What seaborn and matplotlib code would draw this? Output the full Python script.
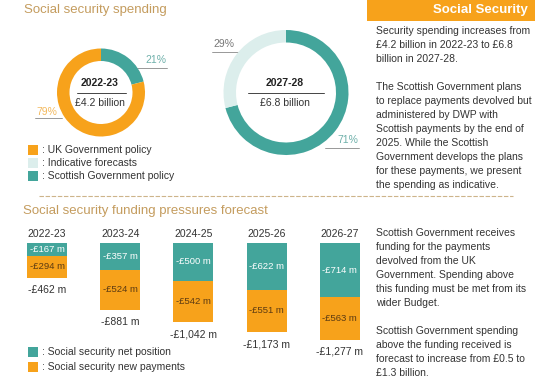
import matplotlib
matplotlib.use('Agg')
import matplotlib.pyplot as plt
import pandas as pd
import seaborn as sns
from matplotlib.patches import Rectangle

# Social security spending (donuts)
spend_years = ['2022-23', '2027-28']
spend_totals = [4.2, 6.8]  # £ billion
scottish_pct = [21, 71]
other_pct = [79, 29]
legend_labels = ['UK Government policy', 'Indicative forecasts', 'Scottish Government policy']

# Social security funding pressures (£ m)
bar_years = ['2022-23', '2023-24', '2024-25', '2025-26', '2026-27']
net_position = [167, 357, 500, 622, 714]
new_payments = [294, 524, 542, 551, 563]
total_pressure = [462, 881, 1042, 1173, 1277]

ORANGE = '#F7A21B'
TEAL = '#43A59B'
LIGHT = '#DCEEEC'
GOLD = '#C49C5E'
TXT = '#333333'

sns.set_theme(style='white')
plt.rcParams['font.family'] = ['Liberation Sans', 'DejaVu Sans']

W, H = 550, 388
fig = plt.figure(figsize=(5.5, 3.88), dpi=100)


def px_axes(x0, y0, w, h):
    return fig.add_axes([x0 / W, 1 - (y0 + h) / H, w / W, h / H])


canvas = px_axes(0, 0, W, H)
canvas.set_xlim(0, W)
canvas.set_ylim(H, 0)
canvas.axis('off')

# titles and header
canvas.text(24, 9.5, 'Social security spending', fontsize=9.5, color=GOLD, va='center')
canvas.text(23, 211, 'Social security funding pressures forecast', fontsize=9.5, color=GOLD, va='center')
canvas.add_patch(Rectangle((367, 0), 168, 21, color=ORANGE, lw=0))
canvas.text(528, 10.5, 'Social Security', fontsize=9.5, color='white', fontweight='bold',
            ha='right', va='center')
canvas.plot([39, 513], [196, 196], ls=(0, (4, 1.5)), color='#CDB48A', lw=0.8)

# donuts
donuts = [(101, 92.5, 44, 24.5), (286, 92.5, 62.5, 38)]
pie_colors = [[TEAL, ORANGE], [TEAL, LIGHT]]
for (cx, cy, r, half), yr, tot, sc, ot, cols in zip(donuts, spend_years, spend_totals,
                                                   scottish_pct, other_pct, pie_colors):
    ax = px_axes(cx - r, cy - r, 2 * r, 2 * r)
    ax.pie([sc, ot], colors=cols, startangle=90, counterclock=False, radius=1,
           wedgeprops=dict(width=12.5 / r, linewidth=0))
    ax.set_xlim(-1, 1)
    ax.set_ylim(-1, 1)
    ax.axis('off')
    canvas.text(cx - 1.5, cy - 9, yr, fontsize=7.5, fontweight='bold', color='#222222',
                ha='center', va='center')
    canvas.plot([cx - half, cx + half], [cy + 0.8, cy + 0.8], color='#444444', lw=0.7)
    canvas.text(cx - 1.5, cy + 10.2, f'£{tot} billion', fontsize=7.5, color=TXT,
                ha='center', va='center')

# percentage labels with underlines
pct_labels = [
    (f'{scottish_pct[0]}%', 156, 60, 137, 167, 67.7, '#6FB0AA'),
    (f'{other_pct[0]}%', 46.5, 112, 35, 62, 118, '#F3B95E'),
    (f'{other_pct[1]}%', 223.5, 44.3, 212, 239, 52.3, '#777777'),
    (f'{scottish_pct[1]}%', 347.5, 140, 325, 359, 147.7, '#6FB0AA'),
]
for txt, tx, ty, lx0, lx1, ly, col in pct_labels:
    canvas.text(tx, ty, txt, fontsize=7.5, color=col, ha='center', va='center')
    canvas.plot([lx0, lx1], [ly, ly], color='#888888', lw=0.6)

# legend 1
for i, (lab, col) in enumerate(zip(legend_labels, [ORANGE, LIGHT, TEAL])):
    y = 150 + 13 * i
    canvas.add_patch(Rectangle((28, y - 5), 10, 10, color=col, lw=0))
    canvas.text(42, y, ': ' + lab, fontsize=7.5, color=TXT, va='center')

# right-hand notes
notes_top = ['Security spending increases from', '£4.2 billion in 2022-23 to £6.8',
             'billion in 2027-28.', '',
             'The Scottish Government plans', 'to replace payments devolved but',
             'administered by DWP with', 'Scottish payments by the end of',
             '2025. While the Scottish', 'Government develops the plans',
             'for these payments, we present', 'the spending as indicative.']
notes_bottom = ['Scottish Government receives', 'funding for the payments',
                'devolved from the UK', 'Government. Spending above',
                'this funding must be met from its', 'wider Budget.', '',
                'Scottish Government spending', 'above the funding received is',
                'forecast to increase from £0.5 to', '£1.3 billion.']
for y0, lines in [(31.5, notes_top), (233, notes_bottom)]:
    for k, line in enumerate(lines):
        canvas.text(376, y0 + 14 * k, line, fontsize=7.5, color=TXT, va='center')

# stacked bars
df = pd.DataFrame({'year': bar_years,
                   'net': [-v for v in net_position],
                   'total': [-(a + b) for a, b in zip(net_position, new_payments)]})
step = 73.2
px_per_m = 0.0757
top = 243
bx = px_axes(47 - step / 2, top, 5 * step, H - top)
sns.barplot(data=df, x='year', y='total', color=ORANGE, width=40 / step, saturation=1,
            linewidth=0, ax=bx)
sns.barplot(data=df, x='year', y='net', color=TEAL, width=40 / step, saturation=1,
            linewidth=0, ax=bx)
bx.set_xlim(-0.5, 4.5)
bx.set_ylim(-(H - top) / px_per_m, 0)
bx.axis('off')

for i, (yr, n, p, t) in enumerate(zip(bar_years, net_position, new_payments, total_pressure)):
    bx.annotate(yr, (i, 0), xytext=(0, 6.5), textcoords='offset points', ha='center',
                va='center', fontsize=7.5, color=TXT, annotation_clip=False)
    bx.text(i, -n / 2, f'-£{n:,} m', ha='center', va='center', fontsize=6.8, color='white')
    bx.text(i, -(n + p / 2), f'-£{p:,} m', ha='center', va='center', fontsize=6.8,
            color='#5B3A12')
    bx.annotate(f'-£{t:,} m', (i, -(n + p)), xytext=(0, -8.8), textcoords='offset points',
                ha='center', va='center', fontsize=7.5, color=TXT, annotation_clip=False)

# legend 2
for i, (lab, col) in enumerate(zip(['Social security net position', 'Social security new payments'],
                                   [TEAL, ORANGE])):
    y = 352 + 15 * i
    canvas.add_patch(Rectangle((28, y - 5), 10, 10, color=col, lw=0))
    canvas.text(42, y, ': ' + lab, fontsize=7.5, color=TXT, va='center')

fig.savefig('out.png', dpi=100)
